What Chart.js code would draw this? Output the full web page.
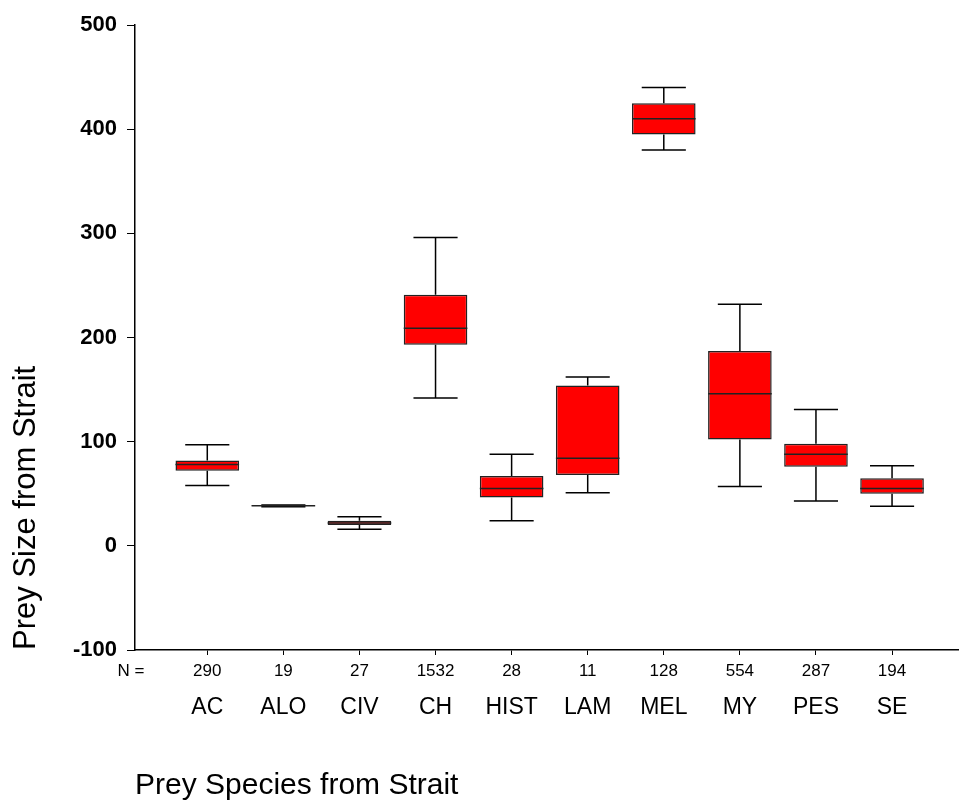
<!DOCTYPE html>
<html>
<head>
<meta charset="utf-8">
<script src="https://cdn.jsdelivr.net/npm/chart.js@4.4.1/dist/chart.umd.min.js"></script>
<style>
  html, body { margin: 0; padding: 0; background: #ffffff; }
  #wrap { width: 959px; height: 807px; position: relative; }
</style>
</head>
<body>
<div id="wrap"><canvas id="c"></canvas></div>
<script>
// ---- data ----
const categories = ['AC', 'ALO', 'CIV', 'CH', 'HIST', 'LAM', 'MEL', 'MY', 'PES', 'SE'];
const counts     = [290, 19, 27, 1532, 28, 11, 128, 554, 287, 194];
const whiskerMin = [58, 37.5, 16, 142, 24, 51, 380, 57, 43, 38];
const q1         = [72, 38.3, 20, 193, 46.5, 68, 395, 102, 76, 50];
const median     = [78, 38.6, 22, 209, 55, 84, 410, 146, 88, 55];
const q3         = [82, 39, 24, 241, 67, 154, 425, 187, 98, 65];
const whiskerMax = [97, 39.2, 28, 296, 88, 162, 440, 232, 131, 77];
const yTicks     = [-100, 0, 100, 200, 300, 400, 500];
const nLabel     = 'N =';

const FONT = "'Liberation Sans', Arial, Helvetica, sans-serif";
const positions = categories.map((c, i) => i + 1);

const boxData = positions.map((p, i) => ({ x: p, y: [q1[i], q3[i]] }));

const boxPlugin = {
  id: 'boxParts',
  afterDatasetsDraw(chart) {
    const ctx = chart.ctx;
    const xs = chart.scales.x, ys = chart.scales.y;
    const meta = chart.getDatasetMeta(0);
    ctx.save();
    ctx.strokeStyle = '#000000';
    ctx.lineWidth = 1.5;
    positions.forEach((p, i) => {
      const cx = xs.getPixelForValue(p);
      const capHalf = xs.getPixelForValue(p + 0.29) - cx;
      const bar = meta.data[i];
      const halfW = bar.width / 2;
      const yMin = ys.getPixelForValue(whiskerMin[i]);
      const yMax = ys.getPixelForValue(whiskerMax[i]);
      const yQ1 = ys.getPixelForValue(q1[i]);
      const yQ3 = ys.getPixelForValue(q3[i]);
      const yMed = ys.getPixelForValue(median[i]);
      ctx.beginPath();
      ctx.moveTo(cx, yQ3); ctx.lineTo(cx, yMax);
      ctx.moveTo(cx - capHalf, yMax); ctx.lineTo(cx + capHalf, yMax);
      ctx.moveTo(cx, yQ1); ctx.lineTo(cx, yMin);
      ctx.moveTo(cx - capHalf, yMin); ctx.lineTo(cx + capHalf, yMin);
      ctx.stroke();
      ctx.beginPath();
      ctx.strokeStyle = '#222222';
      ctx.moveTo(cx - halfW, yMed); ctx.lineTo(cx + halfW, yMed);
      ctx.stroke();
      ctx.strokeStyle = '#000000';
    });
    ctx.fillStyle = '#000000';
    ctx.font = '17px ' + FONT;
    ctx.textAlign = 'center';
    ctx.textBaseline = 'middle';
    const cnt = chart.scales.x;
    ctx.fillText(nLabel, 131, cnt.top + 5 + 6 + 10.2);
    ctx.restore();
  }
};

new Chart(document.getElementById('c'), {
  type: 'bar',
  data: {
    datasets: [{
      data: boxData,
      backgroundColor: '#ff0000',
      borderColor: '#222222',
      borderWidth: 1.5,
      borderSkipped: false,
      categoryPercentage: 1.0,
      barPercentage: 0.836,
      xAxisID: 'x',
      yAxisID: 'y'
    }]
  },
  options: {
    responsive: true,
    maintainAspectRatio: false,
    animation: false,
    events: [],
    layout: { padding: { top: 25, right: 0, bottom: 0, left: 0 } },
    plugins: { legend: { display: false }, tooltip: { enabled: false } },
    scales: {
      x: {
        type: 'linear',
        position: 'bottom',
        weight: 0,
        offset: false,
        min: 0.05,
        max: 10.88,
        afterBuildTicks(s) { s.ticks = positions.map(v => ({ value: v })); },
        afterFit(s) { s.height = 38; },
        ticks: {
          autoSkip: false,
          maxRotation: 0,
          color: '#000000',
          font: { family: FONT, size: 17 },
          padding: 6,
          callback: (v) => { const i = positions.indexOf(v); return i >= 0 ? String(counts[i]) : ''; }
        },
        grid: { offset: false, drawOnChartArea: false, tickLength: 5, color: '#000000', lineWidth: 1 },
        border: { display: true, color: '#000000', width: 1.5 }
      },
      x2: {
        type: 'linear',
        position: 'bottom',
        weight: 1,
        offset: false,
        min: 0.05,
        max: 10.88,
        afterBuildTicks(s) { s.ticks = positions.map(v => ({ value: v })); },
        afterFit(s) { s.height = 119; },
        ticks: {
          autoSkip: false,
          maxRotation: 0,
          color: '#000000',
          font: { family: FONT, size: 23 },
          padding: 6,
          callback: (v) => { const i = positions.indexOf(v); return i >= 0 ? categories[i] : ''; }
        },
        grid: { display: false, drawTicks: false, offset: false },
        border: { display: false },
        title: {
          display: true,
          text: 'Prey Species from Strait',
          align: 'start',
          color: '#000000',
          font: { family: FONT, size: 30 },
          padding: { top: 3, bottom: 3 }
        }
      },
      y: {
        type: 'linear',
        position: 'left',
        min: -100,
        max: 500,
        afterBuildTicks(s) { s.ticks = yTicks.map(v => ({ value: v })); },
        afterFit(s) { s.width = 135; },
        ticks: {
          color: '#000000',
          font: { family: FONT, size: 22, weight: 'bold' },
          padding: 10
        },
        grid: { drawOnChartArea: false, tickLength: 8, color: '#000000', lineWidth: 1 },
        border: { display: true, color: '#000000', width: 1.5 },
        title: {
          display: true,
          text: 'Prey Size from Strait',
          align: 'start',
          color: '#000000',
          font: { family: FONT, size: 31 },
          padding: { top: 8, bottom: 8 }
        }
      }
    }
  },
  plugins: [boxPlugin]
});
</script>
</body>
</html>
